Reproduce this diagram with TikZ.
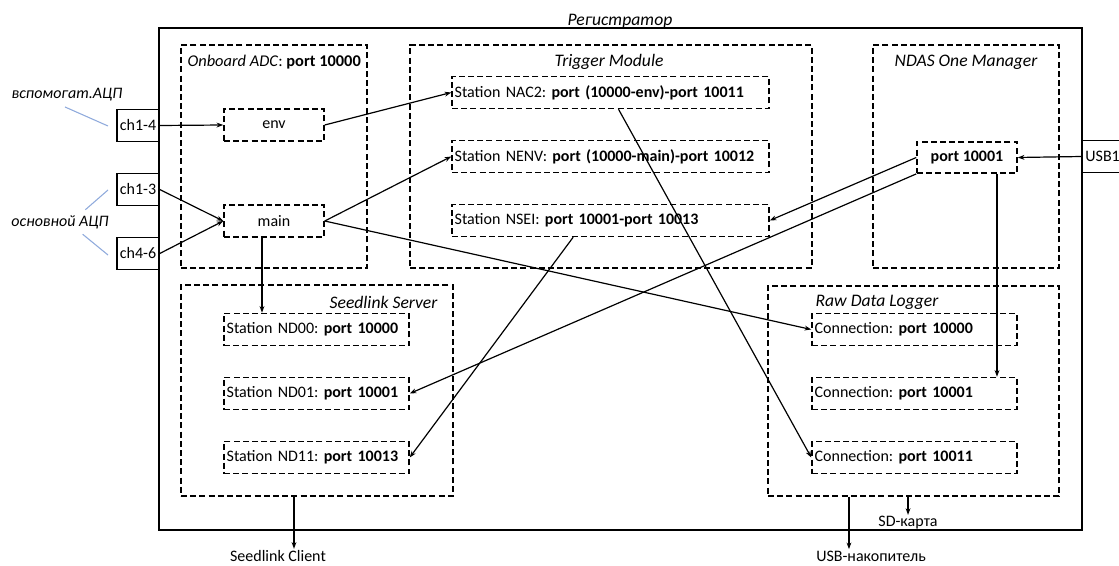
\documentclass[tikz,border=0pt,12pt]{standalone}
\usepackage{fontspec}
\setmainfont{Carlito}
\usetikzlibrary{arrows.meta,positioning,calc}
\definecolor{tieblue}{RGB}{143,170,220}
\frenchspacing
\tikzset{
  box/.style={draw, line width=1.1pt, dash pattern=on 4.5pt off 2.4pt, minimum height=24pt, inner xsep=2pt},
  station/.style={box, text width=#1, align=left},
  group/.style={draw, line width=1.1pt, dash pattern=on 4.5pt off 2.4pt},
  grouptitle/.style={font=\fontsize{13.2}{15}\selectfont\itshape},
  adclabel/.style={font=\itshape},
  chan/.style={draw, line width=1.1pt, minimum width=31.5pt, minimum height=24pt, inner sep=1pt},
  outlabel/.style={inner sep=1pt},
  link/.style={->, line width=0.9pt},
  tie/.style={draw=tieblue, line width=0.8pt}
}

\begin{document}
\begin{tikzpicture}[x=0.75pt, y=-0.75pt, node distance=48pt, on grid, >={Stealth[length=5pt,width=3.6pt]}]
\useasboundingbox (0,0) rectangle (1119,566);

\node[draw, line width=1.1pt, minimum width=692.25pt, minimum height=376.5pt] (reg) at (620.5,279) {};
\node[grouptitle, anchor=base] (regt) at (620,26) {Регистратор};

\node[group, minimum width=139.5pt, minimum height=167.25pt] (adc) at (274,156.5) {};
\node[group, minimum width=301.5pt, minimum height=167.25pt] (trig) at (611,156.5) {};
\node[group, minimum width=139.5pt, minimum height=167.25pt] (ndas) at (966,156.5) {};
\node[group, minimum width=204pt, minimum height=158.25pt] (seed) at (317,390.5) {};
\node[group, minimum width=218.25pt, minimum height=157.5pt] (raw) at (913.5,391) {};

\node[anchor=west, font=\fontsize{12.3}{15}\selectfont] (adct) at (182,62) {\textit{Onboard ADC}: \textbf{port 10000}};
\node[grouptitle] (trigt) at (609,62) {Trigger Module};
\node[grouptitle] (ndast) at (966,62) {NDAS One Manager};
\node[grouptitle, anchor=east] (seedt) at (443,302) {Seedlink Server};
\node[grouptitle, anchor=west] (rawt) at (810,302) {Raw Data Logger};

\node[box, minimum width=75pt] (env) at (274,125) {env};
\node[box, minimum width=75pt, below=72pt of env] (main) {main};

\node[station=233.75pt] (nac2) at (610.5,92.5) {Station NAC2: \textbf{port (10000-env)-port 10011}};
\node[station=233.75pt, below=of nac2] (nenv) {Station NENV: \textbf{port (10000-main)-port 10012}};
\node[station=233.75pt, below=of nenv] (nsei) {Station NSEI: \textbf{port 10001-port 10013}};

\node[box, minimum width=75pt, minimum height=23.5pt] (port) at (967,157.5) {\textbf{port 10001}};

\node[station=134.75pt] (nd00) at (316.5,329.5) {Station ND00: \textbf{port 10000}};
\node[station=134.75pt, below=of nd00] (nd01) {Station ND01: \textbf{port 10001}};
\node[station=134.75pt, below=of nd01] (nd11) {Station ND11: \textbf{port 10013}};

\node[station=149.75pt] (conn0) at (914.5,329.5) {Connection: \textbf{port 10000}};
\node[station=149.75pt, below=of conn0] (conn1) {Connection: \textbf{port 10001}};
\node[station=149.75pt, below=of conn1] (conn11) {Connection: \textbf{port 10011}};

\node[chan] (ch14) at (138,125.5) {ch1-4};
\node[chan, below=of ch14] (ch13) {ch1-3};
\node[chan, below=of ch13] (ch46) {ch4-6};
\node[chan, anchor=west, text width=36pt, align=left, inner xsep=2pt] (usb) at (1082,156.5) {USB1};

\node[adclabel] (auxadc) at (67,95) {вспомогат.АЦП};
\node[adclabel] (mainadc) at (60,222) {основной АЦП};
\coordinate (a14) at (108,126);
\coordinate (a13) at (108,190);
\coordinate (a46) at (108,255);
\draw[tie] ([xshift=-1.5pt]auxadc.south) -- (a14);
\draw[tie] ([xshift=19pt]mainadc.north) -- (a13);
\draw[tie] ([xshift=17pt]mainadc.south) -- (a46);

\node[outlabel] (client) at (278,556) {Seedlink Client};
\node[outlabel] (usbdrive) at (871,556) {USB-накопитель};
\node[outlabel] (sdcard) at (908,523) {SD-карта};

\draw[link] (ch14.east) -- (env.west);
\draw[link] (ch13.east) -- (main.west);
\draw[link] (ch46.east) -- (main.west);
\draw[link] (env.east) -- (nac2.west);
\draw[link] (main.east) -- (nenv.west);
\draw[link] (main.east) -- (conn0.west);
\draw[link] ([xshift=-9pt]main.south) -- ([xshift=-9pt]main.south |- nd00.north);
\draw[link] ([xshift=6pt]nac2.south) -- (conn11.west);
\draw[link] ([xshift=-28pt]nsei.south) -- (nd11.east);
\draw[link] (port.west) -- (nsei.east);
\draw[link] (port.south west) -- (nd01.east);
\draw[link] ([xshift=22.5pt]port.south) -- ([xshift=22.5pt]port.south |- conn1.north);
\draw[link] (usb.west) -- (port.east);
\draw[link] ([xshift=-17.25pt]seed.south) -- ([xshift=-17.25pt]seed.south |- client.north);
\draw[link] ([xshift=-48.4pt]raw.south) -- ([xshift=-48.4pt]raw.south |- usbdrive.north);
\draw[link] ([xshift=-4.1pt]raw.south) -- ([xshift=-4.1pt]raw.south |- sdcard.north);
\end{tikzpicture}
\end{document}
